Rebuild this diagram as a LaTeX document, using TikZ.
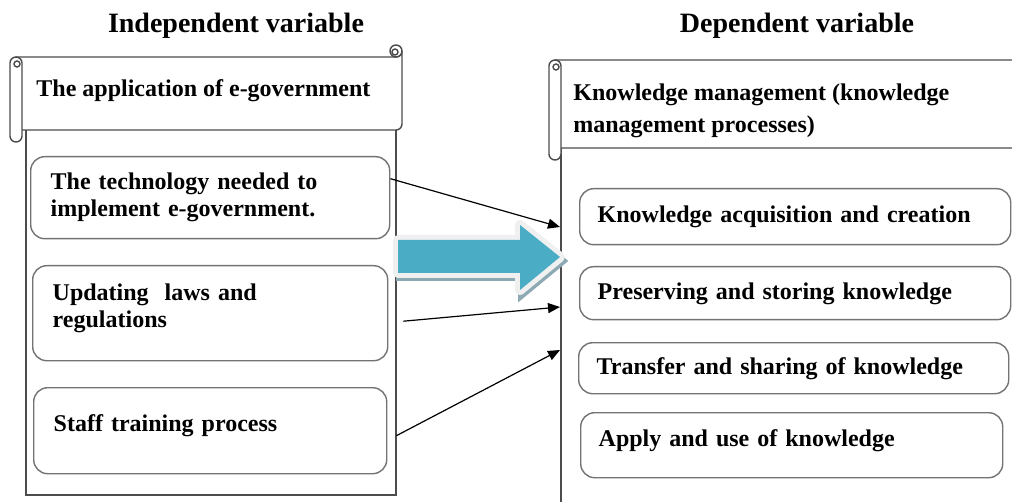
\documentclass[tikz,border=0pt]{standalone}
\usepackage{fontspec}
\setmainfont{Liberation Serif}
\usetikzlibrary{arrows.meta}

\def\bigArrow{(398,240) -- (520,240) -- (520,225) -- (560,257) -- (520,290) -- (520,273) -- (398,273) -- cycle}
\colorlet{frame edge}{black!70}
\colorlet{box edge}{black!55}
\definecolor{arrow fill}{HTML}{4BACC6}
\definecolor{arrow shade}{HTML}{8DA9B4}
\colorlet{arrow glow}{black!6}
\tikzset{
  frame/.style={draw=frame edge, line width=0.7pt, fill=white},
  item/.style={draw=box edge, line width=0.7pt, rounded corners=7pt, fill=white,
    anchor=north west, align=left, font=\bfseries\fontsize{12}{13.5}\selectfont},
  cause/.style={item, inner xsep=10pt},
  process/.style={item, inner xsep=9pt},
  banner text/.style={anchor=west, align=left, inner sep=0pt, font=\bfseries\fontsize{12}{16}\selectfont},
  link/.style={draw, line width=0.6pt, -{Triangle[length=6pt,width=5pt]}}
  }
\tikzstyle{heading}=[font=\bfseries\fontsize{14}{17}\selectfont]

% banner with rolled ends: left, right, top, bottom
\newcommand\scrollBanner[4]{%
  \filldraw[frame] (#1+6,#3) -- (#2-6,#3) arc[start angle=90, end angle=0, radius=6]
    -- (#2,#4-6) arc[start angle=0, end angle=90, radius=6] -- (#1+6,#4) -- cycle;
  \filldraw[frame] (#2-6,#3-6) circle[radius=6];
  \draw[frame edge, line width=0.7pt] (#2-7,#3-5) circle[radius=3];
  \filldraw[frame, rounded corners=3pt] (#1,#3) rectangle (#1+12,#4+12);
  \draw[frame edge, line width=0.7pt] (#1+7,#3+7) circle[radius=3];
}

\begin{document}
\begin{tikzpicture}[x=0.5pt, y=-0.5pt]
  \useasboundingbox (0,0) rectangle (1012,502);
  \clip (0,0) rectangle (1012,502);

  \node[heading] (indep) at (236,26) {Independent variable};
  \node[heading] (dep) at (797,26) {Dependent variable};

  % frames behind the banners
  \draw[frame] (26,128) rectangle (396,495);
  \draw[frame] (561,146) rectangle (1040,540);

  \scrollBanner{10}{402}{57}{130}
  \scrollBanner{549}{1040}{60}{148}

  \node[banner text] (egov) at (36,91) {The application of e-government};
  \node[banner text] (km) at (573,111) {Knowledge management (knowledge\\management processes)};

  % independent side
  \node[cause, text width=159.5pt, minimum height=41pt] (tech) at (30,156) {The technology needed to\\implement e-government.};
  \node[cause, text width=157.5pt, minimum height=47.5pt, text depth=21pt] (laws) at (32,265) {Updating~ laws and\\regulations};
  \node[cause, text width=156.5pt, minimum height=43pt, text depth=8pt] (staff) at (33,387) {Staff training process};

  % dependent side
  \foreach \name/\pos/\boxw/\boxh/\textd/\txt in {
      {acq/(579,188)/197.5pt/28pt/3pt/Knowledge acquisition and creation},
      {pres/(579,266)/197.5pt/26.5pt/2pt/Preserving and storing knowledge},
      {trans/(578,342)/197pt/25.5pt/2pt/Transfer and sharing of knowledge},
      {apply/(580,412)/193pt/32.5pt/7.5pt/Apply and use of knowledge}} {
    \node[process, text width=\boxw, minimum height=\boxh, text depth=\textd] (\name) at \pos {\txt};
  }

  \filldraw[arrow shade, line width=4pt, shift={(2,4)}] \bigArrow;
  \draw[arrow glow, line width=5pt, line join=round] \bigArrow;
  \fill[arrow fill] \bigArrow;

  \coordinate (acq-in) at (560,227);
  \coordinate (pres-in) at (560,307);
  \coordinate (trans-in) at (560,350);

  \draw[link] ([yshift=9.5pt]tech.east) -- (acq-in);
  \draw[link] ([xshift=7.5pt,yshift=-4pt]laws.east) -- (pres-in);
  \draw[link] ([xshift=4.5pt,yshift=-2.5pt]staff.east) -- (trans-in);
\end{tikzpicture}
\end{document}
